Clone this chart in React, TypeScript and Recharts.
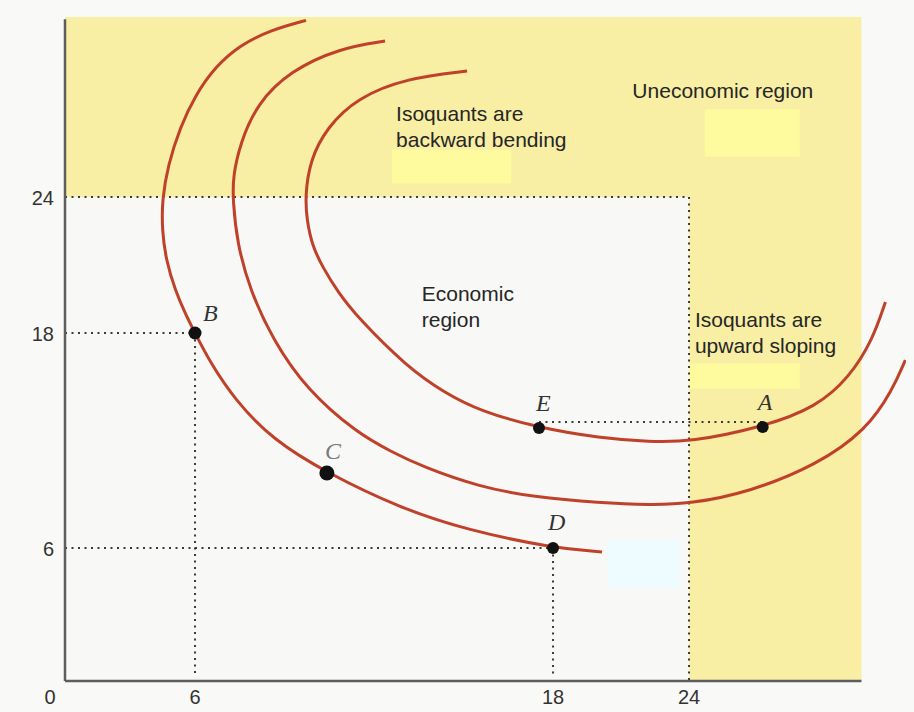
import React from 'react';
import {
  ComposedChart,
  Line,
  Scatter,
  XAxis,
  YAxis,
  ReferenceArea,
  ReferenceLine,
} from 'recharts';

// axis ticks (labour on x, capital on y)
const xTicks = [0, 6, 18, 24];
const yTicks = [6, 18, 24];

// three isoquants
const isoquantOuter = [
  { x: 9.72, y: 31.85 }, { x: 8.51, y: 31.41 }, { x: 7.51, y: 30.75 }, { x: 6.67, y: 29.78 },
  { x: 6.0, y: 28.5 }, { x: 5.31, y: 27.09 }, { x: 4.75, y: 25.41 }, { x: 4.48, y: 23.87 },
  { x: 4.48, y: 22.54 }, { x: 4.66, y: 21.22 }, { x: 5.08, y: 19.9 }, { x: 5.58, y: 18.79 },
  { x: 6.0, y: 18.0 }, { x: 6.5, y: 16.38 }, { x: 7.34, y: 14.26 }, { x: 8.61, y: 12.03 },
  { x: 10.42, y: 10.19 }, { x: 12.87, y: 8.23 }, { x: 15.12, y: 7.0 }, { x: 18.0, y: 6.0 },
  { x: 20.16, y: 5.82 },
];

const isoquantMiddle = [
  { x: 12.37, y: 30.93 }, { x: 10.86, y: 30.62 }, { x: 9.18, y: 29.6 }, { x: 8.08, y: 28.15 },
  { x: 7.51, y: 26.38 }, { x: 7.27, y: 24.88 }, { x: 7.27, y: 23.87 }, { x: 7.41, y: 21.97 },
  { x: 7.84, y: 19.9 }, { x: 8.61, y: 17.61 }, { x: 9.75, y: 14.82 }, { x: 11.43, y: 12.42 },
  { x: 12.54, y: 11.41 }, { x: 13.64, y: 10.52 }, { x: 15.55, y: 9.4 }, { x: 17.33, y: 8.85 },
  { x: 20.07, y: 8.51 }, { x: 22.28, y: 8.4 }, { x: 24.04, y: 8.46 }, { x: 26.69, y: 9.13 },
  { x: 29.65, y: 10.63 }, { x: 31.85, y: 12.59 }, { x: 33.0, y: 14.82 }, { x: 33.57, y: 16.49 },
];

const isoquantInner = [
  { x: 15.12, y: 29.6 }, { x: 13.11, y: 29.29 }, { x: 11.43, y: 28.41 }, { x: 10.42, y: 27.09 },
  { x: 9.85, y: 25.63 }, { x: 9.69, y: 24.0 }, { x: 9.75, y: 22.99 }, { x: 9.92, y: 21.88 },
  { x: 10.29, y: 20.87 }, { x: 10.79, y: 19.81 }, { x: 11.43, y: 18.71 }, { x: 13.11, y: 16.1 },
  { x: 14.38, y: 14.65 }, { x: 15.55, y: 13.65 }, { x: 17.53, y: 12.7 }, { x: 20.07, y: 12.14 },
  { x: 22.28, y: 11.92 }, { x: 24.04, y: 11.92 }, { x: 27.26, y: 12.75 }, { x: 29.65, y: 13.87 },
  { x: 31.1, y: 15.54 }, { x: 32.12, y: 17.61 }, { x: 32.69, y: 19.37 },
];

const points = [
  { name: 'B', x: 6, y: 18 },
  { name: 'C', x: 10.42, y: 10.19 },
  { name: 'D', x: 18, y: 6 },
  { name: 'E', x: 17.53, y: 12.7 },
  { name: 'A', x: 27.26, y: 12.75 },
];

const uneconomicRegion = { x1: 0, x2: 31.63, y1: 0, y2: 32 };
const economicRegion = { x1: 0, x2: 24, y1: 0, y2: 24 };

// pasted-over patches in the scan
const patches = [
  { x1: 24.7, x2: 28.9, y1: 25.8, y2: 27.9, tint: 'yellow' },
  { x1: 12.6, x2: 16.6, y1: 24.6, y2: 26.1, tint: 'yellow' },
  { x1: 24.0, x2: 28.9, y1: 14.9, y2: 16.3, tint: 'yellow' },
  { x1: 20.4, x2: 23.6, y1: 4.2, y2: 6.45, tint: 'blue' },
];

const guides = [
  [{ x: 0, y: 24 }, { x: 24, y: 24 }],
  [{ x: 24, y: 24 }, { x: 24, y: 0 }],
  [{ x: 0, y: 18 }, { x: 6, y: 18 }],
  [{ x: 6, y: 18 }, { x: 6, y: 0.3 }],
  [{ x: 0, y: 6 }, { x: 18, y: 6 }],
  [{ x: 18, y: 6 }, { x: 18, y: 0.3 }],
  [{ x: 17.53, y: 13.03 }, { x: 27.26, y: 13.03 }],
];

const notes = [
  { x: 12.74, y: 27.4, lines: ['Isoquants are', 'backward bending'] },
  { x: 21.5, y: 28.4, lines: ['Uneconomic region'] },
  { x: 13.6, y: 19.41, lines: ['Economic', 'region'] },
  { x: 24.26, y: 18.26, lines: ['Isoquants are', 'upward sloping'] },
];

// the drawing is not to scale, so each axis is piecewise linear between its ticks
const X_KNOTS = [0, 6, 18, 24, 33.6];
const X_FRAC = [0, 0.1546, 0.5803, 0.742, 1];
const Y_KNOTS = [0, 6, 18, 24, 32];
const Y_FRAC = [0, 0.2003, 0.5241, 0.7289, 1];

function piecewiseScale(knots: number[], fracs: number[]): any {
  let dom = [knots[0], knots[knots.length - 1]];
  let rng = [0, 1];
  const seg = (arr: number[], v: number) => {
    let i = 0;
    while (i < arr.length - 2 && v > arr[i + 1]) i++;
    return i;
  };
  const toFrac = (v: number) => {
    const i = seg(knots, v);
    return fracs[i] + ((v - knots[i]) / (knots[i + 1] - knots[i])) * (fracs[i + 1] - fracs[i]);
  };
  const fromFrac = (f: number) => {
    const i = seg(fracs, f);
    return knots[i] + ((f - fracs[i]) / (fracs[i + 1] - fracs[i])) * (knots[i + 1] - knots[i]);
  };
  const scale: any = (v: any) => rng[0] + toFrac(Number(v)) * (rng[1] - rng[0]);
  scale.domain = (d?: any[]) => {
    if (d === undefined) return dom.slice();
    dom = d.map(Number);
    return scale;
  };
  scale.range = (r?: any[]) => {
    if (r === undefined) return rng.slice();
    rng = r.map(Number);
    return scale;
  };
  scale.invert = (p: number) => fromFrac((p - rng[0]) / (rng[1] - rng[0]));
  scale.ticks = () => knots.slice(0, -1);
  scale.tickFormat = () => (v: number) => String(v);
  scale.nice = () => scale;
  scale.copy = () => piecewiseScale(knots, fracs).domain(dom).range(rng);
  return scale;
}

const xScale = piecewiseScale(X_KNOTS, X_FRAC);
const yScale = piecewiseScale(Y_KNOTS, Y_FRAC);

const SANS = "'Liberation Sans', Arial, sans-serif";
const SERIF = "'Liberation Serif', 'DejaVu Serif', serif";
const CURVE = '#c0412a';
const DOTS = { stroke: '#3a3a3a', strokeWidth: 2, strokeDasharray: '2 4.5' };

const DOT_R: Record<string, number> = { B: 6.5, C: 7.5, D: 6, E: 6, A: 6 };
const LABEL_OFFSET: Record<string, [number, number]> = {
  B: [8, -12],
  C: [-2, -14],
  D: [-5, -18],
  E: [-3, -17],
  A: [-5, -17],
};

const XTick = (props: any) => {
  const { x, y, payload } = props;
  return (
    <text
      x={payload.value === 0 ? x - 15 : x}
      y={y}
      dy={23}
      textAnchor="middle"
      fontFamily={SANS}
      fontSize={20}
      fill="#333"
    >
      {payload.value}
    </text>
  );
};

const YTick = (props: any) => {
  const { x, y, payload } = props;
  return (
    <text x={x} y={y} dy={8} textAnchor="end" fontFamily={SANS} fontSize={20} fill="#333">
      {payload.value}
    </text>
  );
};

const PointMark = (props: any) => {
  const { cx, cy, payload } = props;
  const [dx, dy] = LABEL_OFFSET[payload.name];
  return (
    <g>
      <circle cx={cx} cy={cy} r={DOT_R[payload.name]} fill="#111" />
      <text
        x={cx + dx}
        y={cy + dy}
        fontFamily={SERIF}
        fontStyle="italic"
        fontSize={24}
        fill={payload.name === 'C' ? '#7a7a7a' : '#333'}
      >
        {payload.name}
      </text>
    </g>
  );
};

const NoteText = (props: any) => {
  const { cx, cy, payload } = props;
  return (
    <text x={cx} y={cy} fontFamily={SANS} fontSize={21} fill="#262626">
      {payload.lines.map((line: string, i: number) => (
        <tspan key={i} x={cx} dy={i === 0 ? 0 : 26}>
          {line}
        </tspan>
      ))}
    </text>
  );
};

export default function App() {
  return (
    <div style={{ padding: '8px 0 0 8px' }}>
      <style>{'body{margin:0;background:#f9f9f7}'}</style>
      <ComposedChart width={898} height={704} margin={{ top: 9, right: 0, bottom: 0, left: 0 }}>
        <XAxis
          type="number"
          dataKey="x"
          domain={[0, 33.6]}
          scale={xScale}
          ticks={xTicks}
          interval={0}
          axisLine={false}
          tickLine={false}
          tickSize={0}
          tickMargin={0}
          height={31}
          tick={(p: any) => <XTick {...p} />}
        />
        <YAxis
          type="number"
          dataKey="y"
          domain={[0, 32]}
          scale={yScale}
          ticks={yTicks}
          interval={0}
          width={57}
          axisLine={false}
          tickLine={false}
          tickSize={0}
          tickMargin={11}
          tick={(p: any) => <YTick {...p} />}
        />

        <ReferenceArea {...uneconomicRegion} fill="#f8eea4" fillOpacity={1} stroke="none" ifOverflow="visible" />
        <ReferenceArea {...economicRegion} fill="#f8f8f6" fillOpacity={1} stroke="none" ifOverflow="visible" />
        {patches.map((p, i) => (
          <ReferenceArea
            key={`patch-${i}`}
            x1={p.x1}
            x2={p.x2}
            y1={p.y1}
            y2={p.y2}
            fill={p.tint === 'blue' ? '#effcff' : '#fefa9e'}
            fillOpacity={1}
            stroke="none"
            ifOverflow="visible"
          />
        ))}

        {guides.map((g, i) => (
          <ReferenceLine key={`guide-${i}`} segment={g} {...DOTS} ifOverflow="visible" />
        ))}
        <ReferenceLine segment={[{ x: 0, y: 0 }, { x: 31.63, y: 0 }]} stroke="#5e5e5e" strokeWidth={2.5} ifOverflow="visible" />
        <ReferenceLine segment={[{ x: 0, y: 0 }, { x: 0, y: 31.9 }]} stroke="#5e5e5e" strokeWidth={2.5} ifOverflow="visible" />

        <Line data={isoquantOuter} dataKey="y" type="basis" stroke={CURVE} strokeWidth={3} dot={false} activeDot={false} isAnimationActive={false} />
        <Line data={isoquantMiddle} dataKey="y" type="basis" stroke={CURVE} strokeWidth={3} dot={false} activeDot={false} isAnimationActive={false} />
        <Line data={isoquantInner} dataKey="y" type="basis" stroke={CURVE} strokeWidth={3} dot={false} activeDot={false} isAnimationActive={false} />

        <Scatter data={points} dataKey="y" shape={(p: any) => <PointMark {...p} />} isAnimationActive={false} />
        <Scatter data={notes} dataKey="y" shape={(p: any) => <NoteText {...p} />} isAnimationActive={false} />
      </ComposedChart>
    </div>
  );
}
